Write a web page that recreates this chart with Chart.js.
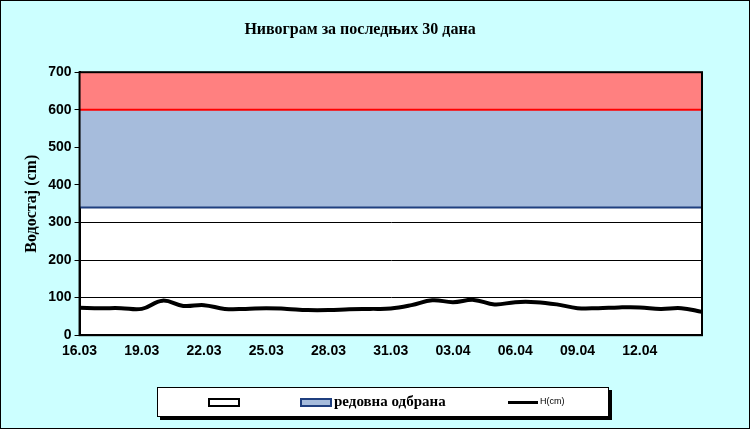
<!DOCTYPE html>
<html><head><meta charset="utf-8">
<script src="https://cdn.jsdelivr.net/npm/chart.js@4"></script>
<style>
body{margin:0;background:#ccffff;width:750px;height:429px;overflow:hidden;position:relative;font-family:"Liberation Serif",serif}
#frame{position:absolute;left:0;top:0;width:748px;height:427px;border:1px solid #000}
#wrap{position:absolute;left:0;top:0;width:750px;height:429px}
#leg{position:absolute;left:157px;top:387px;width:450px;height:28px;background:#fff;border:1px solid #000;box-shadow:3px 3px 0 #000;font-size:15px;font-weight:bold}
.sw{position:absolute;top:10px;width:30px;height:7px}
</style></head><body>
<div id="frame"></div>
<div id="wrap"><canvas id="c" width="750" height="429"></canvas></div>
<div id="leg">
<div class="sw" style="left:50px;border:2px solid #000;width:28px;height:5px;background:#fff"></div>
<div class="sw" style="left:142px;border:2px solid #1f3f7f;width:28px;height:5px;background:#a6bcdc"></div>
<span style="position:absolute;left:176px;top:5px">редовна одбрана</span>
<div style="position:absolute;left:350px;top:13px;width:30px;height:3px;background:#000"></div>
<span style="position:absolute;left:382px;top:8px;font:9px 'Liberation Sans',sans-serif">H(cm)</span>
</div>
<script>
const dates=["16.03","17.03","18.03","19.03","20.03","21.03","22.03","23.03","24.03","25.03","26.03","27.03","28.03","29.03","30.03","31.03","01.04","02.04","03.04","04.04","05.04","06.04","07.04","08.04","09.04","10.04","11.04","12.04","13.04","14.04","15.04"];
const levels=[73,72,72,70,92,78,80,70,70,72,70,67,67,69,70,71,80,93,88,94,82,88,88,82,72,72,74,74,70,72,62];
const redLevel=700, blueTop=600, blueBottom=340;
const yTicks=[0,100,200,300,400,500,600,700];
const cst=v=>dates.map(()=>v);
const areaPlugin={id:'area',
beforeDraw(c){const a=c.chartArea,x=c.ctx;x.save();x.fillStyle='#fff';x.fillRect(a.left,a.top,a.right-a.left,a.bottom-a.top);x.restore();},
afterDraw(c){const a=c.chartArea,x=c.ctx;x.save();x.strokeStyle='#000';x.lineWidth=2;x.strokeRect(a.left,a.top,a.right-a.left,a.bottom-a.top);x.restore();}};
new Chart(document.getElementById('c'),{
type:'line',
plugins:[areaPlugin],
data:{labels:dates,datasets:[
{data:levels,borderColor:'#000',borderWidth:4,pointRadius:0,tension:0.4,fill:false,order:0},
{data:cst(blueBottom),borderColor:'#1f3f7f',borderWidth:2,pointRadius:0,fill:false,order:1},
{data:cst(blueTop),borderColor:'#ff0000',borderWidth:2,pointRadius:0,fill:{target:1},backgroundColor:'#a6bcdc',order:2},
{data:cst(redLevel),borderColor:'#ff0000',borderWidth:1,pointRadius:0,fill:{target:2},backgroundColor:'#ff8080',order:3}
]},
options:{responsive:false,animation:false,
layout:{padding:{left:18,right:48,top:16,bottom:66}},
plugins:{legend:{display:false},title:{display:true,text:'Нивограм за последњих 30 дана',color:'#000',font:{family:'Liberation Serif',size:16,weight:'bold'},padding:{top:4,bottom:33}},tooltip:{enabled:false}},
scales:{
x:{offset:false,grid:{display:false,drawTicks:true,tickLength:5,color:'#000'},border:{color:'#000',width:2},
ticks:{autoSkip:false,maxRotation:0,color:'#000',font:{family:'Liberation Sans',size:14,weight:'bold'},callback:(v,i)=>i%3===0&&i<30?dates[i]:''}},
y:{min:0,max:700,afterBuildTicks:a=>{a.ticks=yTicks.map(v=>({value:v}))},grid:{color:'#000',tickLength:5},border:{color:'#000',width:2},
ticks:{color:'#000',font:{family:'Liberation Sans',size:14,weight:'bold'}},
title:{display:true,text:'Водостај (cm)',color:'#000',font:{family:'Liberation Serif',size:16,weight:'bold'}}}
}}});
</script></body></html>
